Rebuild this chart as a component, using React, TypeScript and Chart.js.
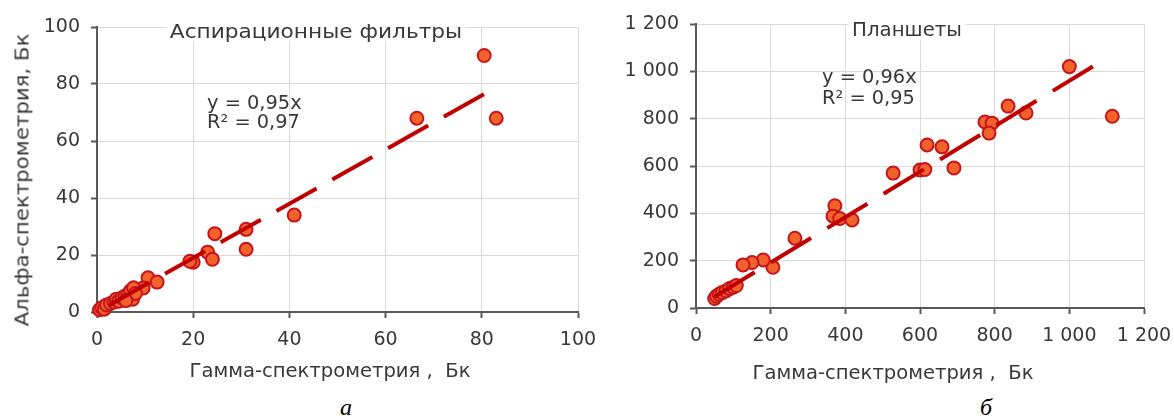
import React, { useEffect, useRef } from 'react';
import { Chart, registerables } from 'chart.js';

Chart.register(...registerables);

// ---- Data: Аспирационные фильтры ----
const filterGamma = [80.5, 83, 66.5, 41, 31, 31, 24.5, 23, 24, 20, 19.3, 10.6, 12.5, 9.6,
  0.5, 1, 1.5, 2, 2.8, 3.5, 4, 4.5, 5.2, 5.8, 6.4, 7, 7.4, 7.6, 8, 6];
const filterAlpha = [90, 68, 68, 34, 29, 22, 27.5, 21, 18.5, 17.5, 17.8, 12, 10.5, 8.4,
  0.8, 1.5, 1, 2.5, 3, 3.5, 4.5, 3.8, 5, 5.5, 6.2, 7.5, 4.5, 8.5, 6.5, 4];
const filterFitRange = [0, 81];
const filterSlope = 0.95;
const filterTickLabels = ['0', '20', '40', '60', '80', '100'];

// ---- Data: Планшеты ----
const plateGamma = [1000, 1115, 836, 884, 774, 793, 785, 619, 659, 691, 528, 600, 613,
  372, 367, 385, 418, 265, 206, 180, 150, 126, 50, 55, 62, 70, 80, 90, 100, 108];
const plateAlpha = [1020, 810, 853, 824, 786, 781, 739, 689, 681, 592, 570, 583, 585,
  432, 388, 378, 372, 295, 172, 203, 192, 182, 40, 50, 58, 65, 72, 82, 88, 95];
const plateFitRange = [45, 1063];
const plateSlope = 0.96;
const plateTickLabels = ['0', '200', '400', '600', '800', '1 000', '1 200'];

const TEXT = '#383838';
const AXIS = '#595959';
const GRID = '#d9d9d9';
const FONT = 'DejaVu Sans, Liberation Sans, Arial, sans-serif';

type Cfg = {
  xs: number[]; ys: number[]; fit: number[]; slope: number;
  labels: string[]; max: number; step: number;
  yWidth: number; xHeight: number; pad: { top: number; right: number };
  dash: number[]; dashOffset: number;
};

function buildConfig(c: Cfg): any {
  const pts = c.xs.map((x, i) => ({ x, y: c.ys[i] }));
  const fitPts = c.fit.map((x) => ({ x, y: x * c.slope }));
  const tickLabel = (v: any) => {
    const idx = Math.round(Number(v) / c.step);
    return c.labels[idx] ?? '';
  };
  const axisCommon = (isX: boolean) => ({
    type: 'linear',
    min: 0,
    max: c.max,
    ticks: {
      stepSize: c.step,
      color: TEXT,
      font: { family: FONT, size: 19 },
      padding: 11,
      maxRotation: 0,
      callback: tickLabel,
    },
    grid: {
      color: GRID,
      lineWidth: 1,
      tickColor: AXIS,
      tickLength: 6,
      tickWidth: 2,
    },
    border: { color: AXIS, width: 2 },
    afterFit: (s: any) => {
      if (isX) s.height = c.xHeight; else s.width = c.yWidth;
    },
  });
  return {
    type: 'scatter',
    data: {
      datasets: [
        {
          label: 'fit',
          data: fitPts,
          showLine: true,
          pointRadius: 0,
          borderColor: '#c00000',
          borderWidth: 4,
          borderDash: c.dash,
          borderDashOffset: c.dashOffset,
          borderCapStyle: 'butt',
          fill: false,
          order: 0,
        },
        {
          label: 'data',
          data: pts,
          pointRadius: 6.5,
          pointHoverRadius: 6.5,
          backgroundColor: '#f2622a',
          borderColor: '#c4161c',
          borderWidth: 2,
          clip: false,
          order: 1,
        },
      ],
    },
    options: {
      animation: false,
      responsive: false,
      maintainAspectRatio: false,
      devicePixelRatio: 1,
      layout: { padding: { left: 0, top: c.pad.top, right: c.pad.right, bottom: 0 } },
      plugins: { legend: { display: false }, tooltip: { enabled: false }, title: { display: false } },
      scales: { x: axisCommon(true), y: axisCommon(false) },
    },
  };
}

function ChartCanvas({ cfg, width, height }: { cfg: Cfg; width: number; height: number }) {
  const ref = useRef<HTMLCanvasElement | null>(null);
  useEffect(() => {
    if (!ref.current) return;
    const chart = new Chart(ref.current, buildConfig(cfg));
    return () => chart.destroy();
  }, []);
  return <canvas ref={ref} width={width} height={height} style={{ width, height, display: 'block' }} />;
}

const txt = (extra: React.CSSProperties): React.CSSProperties => ({
  position: 'absolute',
  fontFamily: FONT,
  fontSize: 19,
  color: TEXT,
  whiteSpace: 'pre',
  lineHeight: 1,
  ...extra,
});

export default function App() {
  const filterCfg: Cfg = {
    xs: filterGamma, ys: filterAlpha, fit: filterFitRange, slope: filterSlope,
    labels: filterTickLabels, max: 100, step: 20,
    yWidth: 97, xHeight: 78, pad: { top: 27, right: 32 },
    dash: [46, 18], dashOffset: 50,
  };
  const plateCfg: Cfg = {
    xs: plateGamma, ys: plateAlpha, fit: plateFitRange, slope: plateSlope,
    labels: plateTickLabels, max: 1200, step: 200,
    yWidth: 96, xHeight: 82, pad: { top: 24, right: 40 },
    dash: [47, 19], dashOffset: 64,
  };
  return (
    <div style={{ position: 'fixed', left: 0, top: 0, width: 1174, height: 419, background: '#fff', overflow: 'hidden' }}>
      <div style={{ position: 'absolute', left: 0, top: 0 }}>
        <ChartCanvas cfg={filterCfg} width={610} height={390} />
      </div>
      <div style={{ position: 'absolute', left: 600, top: 0 }}>
        <ChartCanvas cfg={plateCfg} width={584} height={390} />
      </div>

      {/* left chart texts */}
      <div style={txt({ left: 316, top: 31, transform: 'translate(-50%,-50%) scaleX(1.14)', background: '#fff', padding: '1px 3px' })}>Аспирационные фильтры</div>
      <div style={txt({ left: 207, top: 93, transformOrigin: 'left center', transform: 'scaleX(1.02)' })}>{'y = 0,95x'}</div>
      <div style={txt({ left: 207, top: 112, transformOrigin: 'left center', transform: 'scaleX(1.02)' })}>{'R² = 0,97'}</div>
      <div style={txt({ left: 22, top: 180, transform: 'translate(-50%,-50%) rotate(-90deg) scaleX(1.12)' })}>Альфа-спектрометрия, Бк</div>
      <div style={txt({ left: 330, top: 370, transform: 'translate(-50%,-50%) scaleX(1.03)' })}>{'Гамма-спектрометрия ,  Бк'}</div>
      <div style={txt({ left: 346, top: 407, transform: 'translate(-50%,-50%)', fontFamily: 'Liberation Serif, serif', fontStyle: 'italic', fontSize: 24, color: '#000' })}>а</div>

      {/* right chart texts */}
      <div style={txt({ left: 907, top: 29, transform: 'translate(-50%,-50%) scaleX(1.04)', background: '#fff', padding: '1px 3px' })}>Планшеты</div>
      <div style={txt({ left: 822, top: 67, transformOrigin: 'left center', transform: 'scaleX(1.02)' })}>{'y = 0,96x'}</div>
      <div style={txt({ left: 822, top: 88, transformOrigin: 'left center', transform: 'scaleX(1.02)' })}>{'R² = 0,95'}</div>
      <div style={txt({ left: 893, top: 372, transform: 'translate(-50%,-50%) scaleX(1.03)' })}>{'Гамма-спектрометрия ,  Бк'}</div>
      <div style={txt({ left: 986, top: 407, transform: 'translate(-50%,-50%)', fontFamily: 'Liberation Serif, serif', fontStyle: 'italic', fontSize: 24, color: '#000' })}>б</div>
    </div>
  );
}
